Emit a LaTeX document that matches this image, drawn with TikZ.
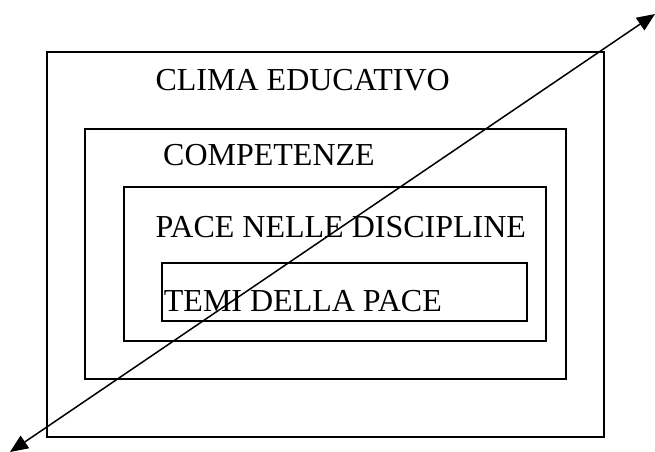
\documentclass[tikz,border=0pt]{standalone}
\usepackage{fontspec}
\setmainfont{Liberation Serif}
\usetikzlibrary{arrows.meta}

\tikzstyle{frame}=[draw,rectangle,line width=1.6pt,inner sep=0pt]
\tikzstyle{lbl}=[anchor=base west,inner sep=0pt,font=\fontsize{32}{32}\selectfont]
\tikzstyle{axis}=[line width=1.5pt,{Triangle[length=18pt,width=15pt]}-{Triangle[length=18pt,width=15pt]}]

\begin{document}
\begin{tikzpicture}[x=1pt,y=-1pt]
        \useasboundingbox (0,0) rectangle (655,451);
        % nested frames
        \draw (325.5,244.5) node[frame,minimum width=557,minimum height=385](clima){};
        \draw (325.5,254.0) node[frame,minimum width=481,minimum height=250](comp){};
        \draw (335.0,264.0) node[frame,minimum width=422,minimum height=154](disc){};
        \draw (344.5,292.0) node[frame,minimum width=365,minimum height=58](temi){};
        %
        \draw (155.4,90.7)  node[lbl](tclima){CLIMA EDUCATIVO};
        \draw (163.0,165.0) node[lbl](tcomp){COMPETENZE};
        \draw (155.4,237.7) node[lbl](tdisc){PACE NELLE DISCIPLINE};
        \draw (163.7,311.7) node[lbl](ttemi){TEMI DELLA PACE};
        %
        \coordinate (sw) at (10,452);
        \coordinate (ne) at (655,14);
        \draw[axis] (sw) -- (ne);
      \end{tikzpicture}
\end{document}
